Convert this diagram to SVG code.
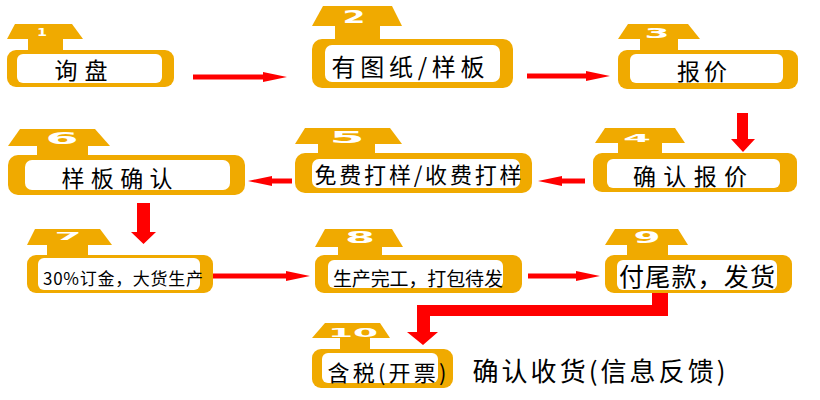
<svg xmlns="http://www.w3.org/2000/svg" width="820" height="400" viewBox="0 0 820 400">
<defs>
<style>
.o{fill:#F0AA00}
.w{fill:#ffffff}
.num{fill:#ffffff;font-family:"DejaVu Sans",sans-serif;font-weight:bold;text-anchor:middle}
.t{fill:#000000;font-family:"Noto Sans CJK SC",sans-serif;text-anchor:middle;dominant-baseline:central}
.ln{stroke:#FF0000;stroke-width:5;fill:none}
.thick{fill:#FF0000}
</style>
<marker id="ah" viewBox="0 0 24 10" markerWidth="24" markerHeight="10" refX="0" refY="5" orient="auto" markerUnits="userSpaceOnUse">
<path d="M0,0 L24,5 L0,10 z" fill="#FF0000"/>
</marker>
</defs>
<rect width="820" height="400" fill="#ffffff"/>

<g id="node1">
<polygon class="o" points="15,24 72,24 83,39 7,39"/>
<rect class="o" x="28" y="38" width="35" height="15"/>
<rect class="o" x="7" y="50" width="167" height="37" rx="9"/>
<rect class="w" x="17" y="54" width="145" height="29" rx="6"/>
<text class="num" x="42" y="36" font-size="11" textLength="10" lengthAdjust="spacingAndGlyphs">1</text>
<text class="t" x="81" y="69" font-size="23" textLength="53" lengthAdjust="spacing">询盘</text>
</g>

<g id="node2">
<polygon class="o" points="323,6 392,6 402,26 312,26"/>
<rect class="o" x="335" y="25" width="45" height="16"/>
<rect class="o" x="312" y="39" width="201" height="49" rx="10"/>
<rect class="w" x="325" y="45" width="175" height="37" rx="7"/>
<text class="num" x="354" y="23" font-size="18" textLength="23" lengthAdjust="spacingAndGlyphs">2</text>
<text class="t" x="408" y="65" font-size="24" textLength="153" lengthAdjust="spacing">有图纸/样板</text>
</g>

<g id="node3">
<polygon class="o" points="628,24 688,24 700,39 618,39"/>
<rect class="o" x="640" y="38" width="38" height="14"/>
<rect class="o" x="618" y="50" width="180" height="39" rx="9"/>
<rect class="w" x="630" y="54" width="153" height="29" rx="6"/>
<text class="num" x="657" y="38" font-size="14" textLength="25" lengthAdjust="spacingAndGlyphs">3</text>
<text class="t" x="702" y="70" font-size="23" textLength="50" lengthAdjust="spacing">报价</text>
</g>

<g id="node4">
<polygon class="o" points="605,128 675,128 685,143 595,143"/>
<rect class="o" x="618" y="142" width="44" height="14"/>
<rect class="o" x="593" y="153" width="204" height="39" rx="9"/>
<rect class="w" x="607" y="159" width="173" height="29" rx="6"/>
<text class="num" x="637" y="142" font-size="11" textLength="28" lengthAdjust="spacingAndGlyphs">4</text>
<text class="t" x="690" y="175" font-size="23" textLength="114" lengthAdjust="spacing">确认报价</text>
</g>

<g id="node5">
<polygon class="o" points="305,128 390,128 402,144 295,144"/>
<rect class="o" x="318" y="143" width="57" height="13"/>
<rect class="o" x="295" y="153" width="237" height="40" rx="10"/>
<rect class="w" x="312" y="159" width="208" height="29" rx="7"/>
<text class="num" x="347" y="143" font-size="15" textLength="35" lengthAdjust="spacingAndGlyphs">5</text>
<text class="t" x="418" y="173" font-size="22" textLength="207" lengthAdjust="spacing">免费打样/收费打样</text>
</g>

<g id="node6">
<polygon class="o" points="20,129 95,129 110,146 8,146"/>
<rect class="o" x="37" y="145" width="51" height="12"/>
<rect class="o" x="8" y="155" width="237" height="40" rx="10"/>
<rect class="w" x="25" y="160" width="205" height="30" rx="7"/>
<text class="num" x="62" y="144" font-size="15" textLength="33" lengthAdjust="spacingAndGlyphs">6</text>
<text class="t" x="117" y="177" font-size="23" textLength="111" lengthAdjust="spacing">样板确认</text>
</g>

<g id="node7">
<polygon class="o" points="35,229 100,229 112,245 27,245"/>
<rect class="o" x="47" y="244" width="41" height="13"/>
<rect class="o" x="27" y="255" width="186" height="38" rx="9"/>
<rect class="w" x="38" y="258" width="162" height="32" rx="6"/>
<text class="num" x="68" y="240" font-size="11" textLength="27" lengthAdjust="spacingAndGlyphs">7</text>
<text class="t" x="123" y="277" font-size="17" textLength="160" lengthAdjust="spacing">30%订金，大货生产</text>
</g>

<g id="node8">
<polygon class="o" points="325,229 392,229 403,247 315,247"/>
<rect class="o" x="338" y="246" width="44" height="11"/>
<rect class="o" x="315" y="255" width="207" height="38" rx="9"/>
<rect class="w" x="328" y="260" width="175" height="28" rx="6"/>
<text class="num" x="360" y="243" font-size="15" textLength="30" lengthAdjust="spacingAndGlyphs">8</text>
<text class="t" x="418" y="277" font-size="19" textLength="170" lengthAdjust="spacing">生产完工，打包待发</text>
</g>

<g id="node9">
<polygon class="o" points="615,229 678,229 688,245 605,245"/>
<rect class="o" x="627" y="244" width="41" height="13"/>
<rect class="o" x="605" y="255" width="187" height="38" rx="9"/>
<rect class="w" x="617" y="260" width="160" height="30" rx="6"/>
<text class="num" x="647" y="243" font-size="15" textLength="27" lengthAdjust="spacingAndGlyphs">9</text>
<text class="t" x="697" y="275" font-size="25" textLength="156" lengthAdjust="spacing">付尾款，发货</text>
</g>

<g id="node10">
<polygon class="o" points="325,323 380,323 390,338 312,338"/>
<rect class="o" x="340" y="337" width="30" height="14"/>
<rect class="o" x="312" y="349" width="141" height="39" rx="9"/>
<rect class="w" x="322" y="353" width="116" height="30" rx="6"/>
<text class="num" x="353" y="337" font-size="12" textLength="50" lengthAdjust="spacingAndGlyphs">10</text>
<text class="t" x="387" y="371" font-size="22" textLength="119" lengthAdjust="spacing">含税(开票)</text>
</g>

<g id="label">
<text class="t" x="599" y="369" font-size="26" textLength="253" lengthAdjust="spacing">确认收货(信息反馈)</text>
</g>

<g id="connectors">
<line class="ln" x1="193" y1="77" x2="263" y2="77" marker-end="url(#ah)"/>
<line class="ln" x1="527" y1="76" x2="586" y2="76" marker-end="url(#ah)"/>
<line class="ln" x1="585" y1="181" x2="562" y2="181" marker-end="url(#ah)"/>
<line class="ln" x1="292" y1="181" x2="272" y2="181" marker-end="url(#ah)"/>
<line class="ln" x1="213" y1="276" x2="286" y2="276" marker-end="url(#ah)"/>
<line class="ln" x1="528" y1="276" x2="576" y2="276" marker-end="url(#ah)"/>
<polygon class="thick" points="737,113 748,113 748,139 755,139 743,152 731,139 737,139"/>
<polygon class="thick" points="137,203 150,203 150,232 156,232 143.5,244 131,232 137,232"/>
<polygon class="thick" points="652,293 668,293 668,316 430,316 430,332 438,332 423,345 407,332 417,332 417,305 652,305"/>
</g>
</svg>
